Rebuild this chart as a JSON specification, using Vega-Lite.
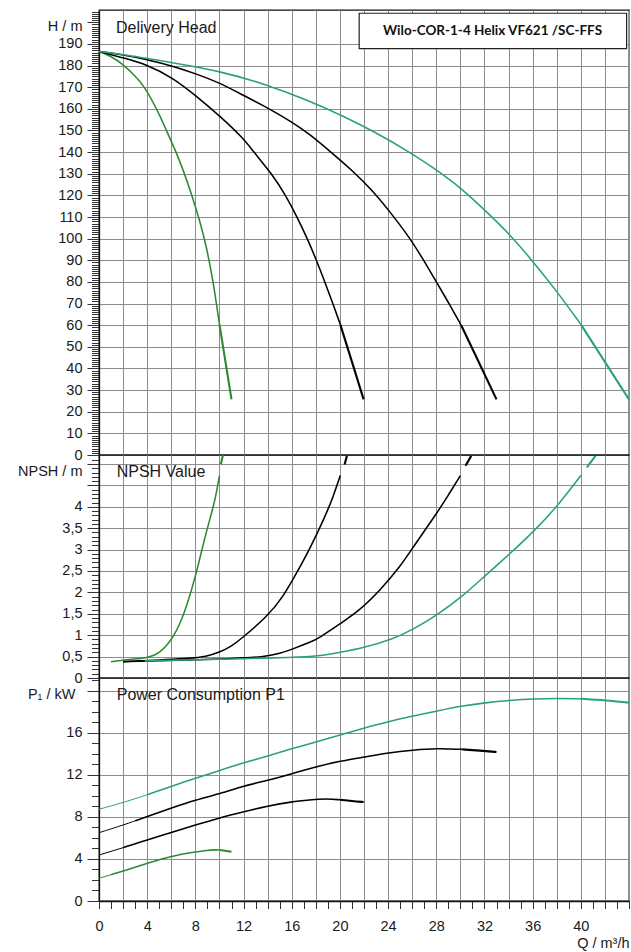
{
  "$schema": "https://vega.github.io/schema/vega-lite/v6.json",
  "background": "white",
  "padding": {"left": 16, "top": 2, "right": 1, "bottom": 1},
  "autosize": {"type": "pad"},
  "spacing": 0,
  "bounds": "flush",
  "datasets": {
    "model": [{"name": "Wilo-COR-1-4 Helix VF621 /SC-FFS"}],
    "headTitle": [{"label": "Delivery Head"}],
    "npshTitle": [{"label": "NPSH Value"}],
    "powerTitle": [{"label": "Power Consumption P1"}],
    "head": [
      {"pumps": "1", "part": "operating", "q": 0, "h": 186.5},
      {"pumps": "1", "part": "operating", "q": 1, "h": 184.4},
      {"pumps": "1", "part": "operating", "q": 2, "h": 180.6},
      {"pumps": "1", "part": "operating", "q": 3, "h": 175.2},
      {"pumps": "1", "part": "operating", "q": 3.65, "h": 171.3},
      {"pumps": "1", "part": "operating", "q": 4.76, "h": 160.5},
      {"pumps": "1", "part": "operating", "q": 5.6, "h": 150.0},
      {"pumps": "1", "part": "operating", "q": 6.42, "h": 139.8},
      {"pumps": "1", "part": "operating", "q": 7.0, "h": 131.5},
      {"pumps": "1", "part": "operating", "q": 7.67, "h": 120.8},
      {"pumps": "1", "part": "operating", "q": 8.36, "h": 108.4},
      {"pumps": "1", "part": "operating", "q": 8.91, "h": 96.5},
      {"pumps": "1", "part": "operating", "q": 9.46, "h": 81.0},
      {"pumps": "1", "part": "operating", "q": 10.0, "h": 60.4},
      {"pumps": "1", "part": "end", "q": 10.0, "h": 60.4},
      {"pumps": "1", "part": "end", "q": 11.0, "h": 25.7},
      {"pumps": "2", "part": "operating", "q": 0, "h": 186.5},
      {"pumps": "2", "part": "operating", "q": 2, "h": 183.6},
      {"pumps": "2", "part": "operating", "q": 3.93, "h": 180.6},
      {"pumps": "2", "part": "operating", "q": 6.14, "h": 174.4},
      {"pumps": "2", "part": "operating", "q": 8.08, "h": 165.9},
      {"pumps": "2", "part": "operating", "q": 10.04, "h": 156.7},
      {"pumps": "2", "part": "operating", "q": 11.95, "h": 146.6},
      {"pumps": "2", "part": "operating", "q": 12.85, "h": 140.0},
      {"pumps": "2", "part": "operating", "q": 14.35, "h": 130.0},
      {"pumps": "2", "part": "operating", "q": 15.5, "h": 120.0},
      {"pumps": "2", "part": "operating", "q": 16.45, "h": 110.0},
      {"pumps": "2", "part": "operating", "q": 17.3, "h": 100.0},
      {"pumps": "2", "part": "operating", "q": 18.05, "h": 90.0},
      {"pumps": "2", "part": "operating", "q": 18.75, "h": 80.0},
      {"pumps": "2", "part": "operating", "q": 19.42, "h": 70.0},
      {"pumps": "2", "part": "operating", "q": 20.03, "h": 60.4},
      {"pumps": "2", "part": "end", "q": 20.03, "h": 60.4},
      {"pumps": "2", "part": "end", "q": 21.97, "h": 25.7},
      {"pumps": "3", "part": "operating", "q": 0, "h": 186.5},
      {"pumps": "3", "part": "operating", "q": 2, "h": 185.0},
      {"pumps": "3", "part": "operating", "q": 3.93, "h": 182.9},
      {"pumps": "3", "part": "operating", "q": 6.14, "h": 179.8},
      {"pumps": "3", "part": "operating", "q": 8, "h": 176.3},
      {"pumps": "3", "part": "operating", "q": 10.0, "h": 172.1},
      {"pumps": "3", "part": "operating", "q": 12.09, "h": 165.9},
      {"pumps": "3", "part": "operating", "q": 14.02, "h": 160.5},
      {"pumps": "3", "part": "operating", "q": 16.1, "h": 153.6},
      {"pumps": "3", "part": "operating", "q": 17.5, "h": 148.2},
      {"pumps": "3", "part": "operating", "q": 19.15, "h": 140.5},
      {"pumps": "3", "part": "operating", "q": 21.08, "h": 131.3},
      {"pumps": "3", "part": "operating", "q": 22.74, "h": 122.0},
      {"pumps": "3", "part": "operating", "q": 24.1, "h": 112.8},
      {"pumps": "3", "part": "operating", "q": 25.8, "h": 100.4},
      {"pumps": "3", "part": "operating", "q": 26.9, "h": 90.5},
      {"pumps": "3", "part": "operating", "q": 28.1, "h": 79.2},
      {"pumps": "3", "part": "operating", "q": 29.1, "h": 69.6},
      {"pumps": "3", "part": "operating", "q": 30.1, "h": 59.6},
      {"pumps": "3", "part": "end", "q": 30.1, "h": 59.6},
      {"pumps": "3", "part": "end", "q": 33.0, "h": 25.7},
      {"pumps": "4", "part": "operating", "q": 0, "h": 186.5},
      {"pumps": "4", "part": "operating", "q": 2, "h": 185.2},
      {"pumps": "4", "part": "operating", "q": 6.14, "h": 181.3},
      {"pumps": "4", "part": "operating", "q": 10.0, "h": 177.5},
      {"pumps": "4", "part": "operating", "q": 13.9, "h": 171.3},
      {"pumps": "4", "part": "operating", "q": 17.5, "h": 163.6},
      {"pumps": "4", "part": "operating", "q": 20.25, "h": 156.7},
      {"pumps": "4", "part": "operating", "q": 23.0, "h": 149.0},
      {"pumps": "4", "part": "operating", "q": 25.5, "h": 141.0},
      {"pumps": "4", "part": "operating", "q": 28.6, "h": 129.7},
      {"pumps": "4", "part": "operating", "q": 30.5, "h": 121.2},
      {"pumps": "4", "part": "operating", "q": 32.4, "h": 111.2},
      {"pumps": "4", "part": "operating", "q": 34.1, "h": 102.0},
      {"pumps": "4", "part": "operating", "q": 36.0, "h": 89.6},
      {"pumps": "4", "part": "operating", "q": 38.0, "h": 75.8},
      {"pumps": "4", "part": "operating", "q": 40.0, "h": 60.4},
      {"pumps": "4", "part": "end", "q": 40.0, "h": 60.4},
      {"pumps": "4", "part": "end", "q": 44.0, "h": 25.7}
    ],
    "npsh": [
      {"pumps": "1", "part": "operating", "q": 1.0, "n": 0.38},
      {"pumps": "1", "part": "operating", "q": 2.0, "n": 0.42},
      {"pumps": "1", "part": "operating", "q": 2.82, "n": 0.44},
      {"pumps": "1", "part": "operating", "q": 3.93, "n": 0.47},
      {"pumps": "1", "part": "operating", "q": 4.5, "n": 0.52},
      {"pumps": "1", "part": "operating", "q": 5.04, "n": 0.6},
      {"pumps": "1", "part": "operating", "q": 5.6, "n": 0.75},
      {"pumps": "1", "part": "operating", "q": 6.14, "n": 0.95},
      {"pumps": "1", "part": "operating", "q": 6.7, "n": 1.25},
      {"pumps": "1", "part": "operating", "q": 7.25, "n": 1.65},
      {"pumps": "1", "part": "operating", "q": 8.08, "n": 2.43},
      {"pumps": "1", "part": "operating", "q": 8.91, "n": 3.44},
      {"pumps": "1", "part": "operating", "q": 9.6, "n": 4.08},
      {"pumps": "1", "part": "operating", "q": 10.0, "n": 4.73},
      {"pumps": "1", "part": "end", "q": 10.12, "n": 5.0},
      {"pumps": "1", "part": "end", "q": 10.29, "n": 5.21},
      {"pumps": "2", "part": "operating", "q": 2.0, "n": 0.38},
      {"pumps": "2", "part": "operating", "q": 3.5, "n": 0.4},
      {"pumps": "2", "part": "operating", "q": 5.6, "n": 0.43},
      {"pumps": "2", "part": "operating", "q": 7.5, "n": 0.46},
      {"pumps": "2", "part": "operating", "q": 8.9, "n": 0.5},
      {"pumps": "2", "part": "operating", "q": 10.0, "n": 0.6},
      {"pumps": "2", "part": "operating", "q": 11.0, "n": 0.74},
      {"pumps": "2", "part": "operating", "q": 11.95, "n": 0.95},
      {"pumps": "2", "part": "operating", "q": 13.9, "n": 1.42},
      {"pumps": "2", "part": "operating", "q": 15.27, "n": 1.88},
      {"pumps": "2", "part": "operating", "q": 16.66, "n": 2.58},
      {"pumps": "2", "part": "operating", "q": 17.49, "n": 3.01},
      {"pumps": "2", "part": "operating", "q": 18.73, "n": 3.75},
      {"pumps": "2", "part": "operating", "q": 19.4, "n": 4.2},
      {"pumps": "2", "part": "operating", "q": 20.03, "n": 4.73},
      {"pumps": "2", "part": "end", "q": 20.39, "n": 4.99},
      {"pumps": "2", "part": "end", "q": 20.58, "n": 5.19},
      {"pumps": "3", "part": "operating", "q": 2.0, "n": 0.38},
      {"pumps": "3", "part": "operating", "q": 5.0, "n": 0.4},
      {"pumps": "3", "part": "operating", "q": 8.0, "n": 0.43},
      {"pumps": "3", "part": "operating", "q": 11.0, "n": 0.45},
      {"pumps": "3", "part": "operating", "q": 13.9, "n": 0.5},
      {"pumps": "3", "part": "operating", "q": 15.0, "n": 0.57},
      {"pumps": "3", "part": "operating", "q": 16.1, "n": 0.68},
      {"pumps": "3", "part": "operating", "q": 17.49, "n": 0.83},
      {"pumps": "3", "part": "operating", "q": 18.26, "n": 0.93},
      {"pumps": "3", "part": "operating", "q": 19.97, "n": 1.26},
      {"pumps": "3", "part": "operating", "q": 21.6, "n": 1.57},
      {"pumps": "3", "part": "operating", "q": 23.3, "n": 2.04},
      {"pumps": "3", "part": "operating", "q": 24.95, "n": 2.58},
      {"pumps": "3", "part": "operating", "q": 26.06, "n": 3.05},
      {"pumps": "3", "part": "operating", "q": 28.0, "n": 3.83},
      {"pumps": "3", "part": "operating", "q": 29.0, "n": 4.27},
      {"pumps": "3", "part": "operating", "q": 30.0, "n": 4.73},
      {"pumps": "3", "part": "end", "q": 30.43, "n": 4.96},
      {"pumps": "3", "part": "end", "q": 30.9, "n": 5.19},
      {"pumps": "4", "part": "operating", "q": 3.8, "n": 0.4},
      {"pumps": "4", "part": "operating", "q": 8.0, "n": 0.43},
      {"pumps": "4", "part": "operating", "q": 12.0, "n": 0.45},
      {"pumps": "4", "part": "operating", "q": 16.0, "n": 0.48},
      {"pumps": "4", "part": "operating", "q": 18.26, "n": 0.51},
      {"pumps": "4", "part": "operating", "q": 20.0, "n": 0.6},
      {"pumps": "4", "part": "operating", "q": 21.9, "n": 0.7},
      {"pumps": "4", "part": "operating", "q": 24.4, "n": 0.91},
      {"pumps": "4", "part": "operating", "q": 26.1, "n": 1.14},
      {"pumps": "4", "part": "operating", "q": 28.0, "n": 1.46},
      {"pumps": "4", "part": "operating", "q": 30.07, "n": 1.88},
      {"pumps": "4", "part": "operating", "q": 31.9, "n": 2.35},
      {"pumps": "4", "part": "operating", "q": 34.1, "n": 2.9},
      {"pumps": "4", "part": "operating", "q": 36.0, "n": 3.4},
      {"pumps": "4", "part": "operating", "q": 38.0, "n": 3.99},
      {"pumps": "4", "part": "operating", "q": 40.0, "n": 4.73},
      {"pumps": "4", "part": "end", "q": 40.5, "n": 4.92},
      {"pumps": "4", "part": "end", "q": 41.22, "n": 5.19}
    ],
    "power": [
      {"pumps": "1", "part": "start", "q": 0, "p": 2.16},
      {"pumps": "1", "part": "start", "q": 1, "p": 2.5},
      {"pumps": "1", "part": "operating", "q": 1, "p": 2.5},
      {"pumps": "1", "part": "operating", "q": 2, "p": 2.85},
      {"pumps": "1", "part": "operating", "q": 3.93, "p": 3.55},
      {"pumps": "1", "part": "operating", "q": 6.06, "p": 4.28},
      {"pumps": "1", "part": "operating", "q": 8, "p": 4.66},
      {"pumps": "1", "part": "operating", "q": 9, "p": 4.83},
      {"pumps": "1", "part": "operating", "q": 9.6, "p": 4.87},
      {"pumps": "1", "part": "operating", "q": 10.04, "p": 4.85},
      {"pumps": "1", "part": "end", "q": 10.04, "p": 4.85},
      {"pumps": "1", "part": "end", "q": 11, "p": 4.69},
      {"pumps": "2", "part": "start", "q": 0, "p": 4.37},
      {"pumps": "2", "part": "start", "q": 2, "p": 5.07},
      {"pumps": "2", "part": "operating", "q": 2, "p": 5.07},
      {"pumps": "2", "part": "operating", "q": 4, "p": 5.82},
      {"pumps": "2", "part": "operating", "q": 6, "p": 6.5},
      {"pumps": "2", "part": "operating", "q": 8, "p": 7.22},
      {"pumps": "2", "part": "operating", "q": 10.04, "p": 7.92},
      {"pumps": "2", "part": "operating", "q": 12.03, "p": 8.49},
      {"pumps": "2", "part": "operating", "q": 14, "p": 9.03},
      {"pumps": "2", "part": "operating", "q": 16, "p": 9.44},
      {"pumps": "2", "part": "operating", "q": 17.5, "p": 9.6},
      {"pumps": "2", "part": "operating", "q": 18.87, "p": 9.73},
      {"pumps": "2", "part": "operating", "q": 20.03, "p": 9.62},
      {"pumps": "2", "part": "end", "q": 20.03, "p": 9.62},
      {"pumps": "2", "part": "end", "q": 21, "p": 9.5},
      {"pumps": "2", "part": "end", "q": 21.97, "p": 9.41},
      {"pumps": "3", "part": "start", "q": 0, "p": 6.49},
      {"pumps": "3", "part": "start", "q": 2, "p": 7.22},
      {"pumps": "3", "part": "start", "q": 3, "p": 7.62},
      {"pumps": "3", "part": "operating", "q": 3, "p": 7.62},
      {"pumps": "3", "part": "operating", "q": 3.93, "p": 8.0},
      {"pumps": "3", "part": "operating", "q": 6.06, "p": 8.87},
      {"pumps": "3", "part": "operating", "q": 8, "p": 9.6},
      {"pumps": "3", "part": "operating", "q": 10.04, "p": 10.2},
      {"pumps": "3", "part": "operating", "q": 12.03, "p": 10.93},
      {"pumps": "3", "part": "operating", "q": 14, "p": 11.47},
      {"pumps": "3", "part": "operating", "q": 16, "p": 12.1},
      {"pumps": "3", "part": "operating", "q": 18, "p": 12.75},
      {"pumps": "3", "part": "operating", "q": 20.03, "p": 13.31},
      {"pumps": "3", "part": "operating", "q": 22.05, "p": 13.69},
      {"pumps": "3", "part": "operating", "q": 24.04, "p": 14.1},
      {"pumps": "3", "part": "operating", "q": 26.06, "p": 14.35},
      {"pumps": "3", "part": "operating", "q": 28.05, "p": 14.51},
      {"pumps": "3", "part": "operating", "q": 30.07, "p": 14.42},
      {"pumps": "3", "part": "end", "q": 30.07, "p": 14.42},
      {"pumps": "3", "part": "end", "q": 32.06, "p": 14.26},
      {"pumps": "3", "part": "end", "q": 33, "p": 14.16},
      {"pumps": "4", "part": "start", "q": 0, "p": 8.72},
      {"pumps": "4", "part": "start", "q": 2, "p": 9.35},
      {"pumps": "4", "part": "start", "q": 4, "p": 10.1},
      {"pumps": "4", "part": "operating", "q": 4, "p": 10.1},
      {"pumps": "4", "part": "operating", "q": 6.06, "p": 10.93},
      {"pumps": "4", "part": "operating", "q": 8, "p": 11.66},
      {"pumps": "4", "part": "operating", "q": 10.04, "p": 12.42},
      {"pumps": "4", "part": "operating", "q": 12.03, "p": 13.15},
      {"pumps": "4", "part": "operating", "q": 14, "p": 13.78},
      {"pumps": "4", "part": "operating", "q": 16, "p": 14.48},
      {"pumps": "4", "part": "operating", "q": 18, "p": 15.12},
      {"pumps": "4", "part": "operating", "q": 20.03, "p": 15.78},
      {"pumps": "4", "part": "operating", "q": 22.05, "p": 16.47},
      {"pumps": "4", "part": "operating", "q": 24.04, "p": 17.04},
      {"pumps": "4", "part": "operating", "q": 26.06, "p": 17.59},
      {"pumps": "4", "part": "operating", "q": 28.05, "p": 18.06},
      {"pumps": "4", "part": "operating", "q": 30.07, "p": 18.54},
      {"pumps": "4", "part": "operating", "q": 32.06, "p": 18.85},
      {"pumps": "4", "part": "operating", "q": 34.08, "p": 19.08},
      {"pumps": "4", "part": "operating", "q": 36.07, "p": 19.23},
      {"pumps": "4", "part": "operating", "q": 38.09, "p": 19.27},
      {"pumps": "4", "part": "operating", "q": 40.03, "p": 19.23},
      {"pumps": "4", "part": "end", "q": 40.03, "p": 19.23},
      {"pumps": "4", "part": "end", "q": 42.1, "p": 19.08},
      {"pumps": "4", "part": "end", "q": 44, "p": 18.85}
    ]
  },
  "vconcat": [
    {
      "width": 530,
      "height": 445,
      "layer": [
        {
          "data": {"name": "head"},
          "mark": {"type": "line", "interpolate": "basis", "clip": true},
          "encoding": {
            "x": {"field": "q", "type": "quantitative", "scale": {"domain": [0, 44], "nice": false, "zero": false},
                  "axis": {"title": null, "labels": false, "ticks": false, "domain": false, "grid": true, "tickCount": 22}},
            "y": {"field": "h", "type": "quantitative", "scale": {"domain": [0, 205.7], "nice": false},
                  "axis": {"title": "H / m", "titleAngle": 0, "titleAlign": "right", "titleBaseline": "middle", "titleX": -17, "titleY": 16,
                           "tickCount": 206,
                           "labelExpr": "datum.value % 10 == 0 && datum.value <= 190 ? datum.label : ''",
                           "tickSize": {"condition": {"test": "datum.value % 10 == 0", "value": 12}, "value": 7.5},
                           "gridOpacity": {"condition": {"test": "datum.value % 10 == 0 && datum.value <= 190", "value": 1}, "value": 0},
                           "labelPadding": 5}},
            "color": {"field": "pumps", "type": "nominal", "scale": {"domain": ["1", "2", "3", "4"], "range": ["#2b8a32", "#000000", "#000000", "#2aa07f"]}, "legend": null},
            "strokeWidth": {"field": "part", "type": "nominal", "scale": {"domain": ["start", "operating", "end"], "range": [1, 2.1, 1]}, "legend": null}
          }
        },
        {
          "data": {"name": "headTitle"},
          "mark": {"type": "text", "align": "left", "baseline": "middle", "font": "Liberation Sans", "fontSize": 16, "color": "#1a1a1a"},
          "encoding": {"x": {"datum": 1.41}, "y": {"datum": 197.5}, "text": {"field": "label"}}
        },
        {
          "data": {"name": "model"},
          "mark": {"type": "rect", "fill": "white", "stroke": "#222222", "strokeWidth": 1.2},
          "encoding": {"x": {"datum": 21.6}, "x2": {"datum": 43.8}, "y": {"datum": 204.2}, "y2": {"datum": 187.8}}
        },
        {
          "data": {"name": "model"},
          "mark": {"type": "text", "font": "Lato", "fontWeight": "bold", "fontSize": 13.5, "color": "#111111"},
          "encoding": {"x": {"datum": 32.67}, "y": {"datum": 196}, "text": {"field": "name"}}
        }
      ]
    },
    {
      "width": 530,
      "height": 223,
      "layer": [
        {
          "data": {"name": "npsh"},
          "mark": {"type": "line", "interpolate": "basis", "clip": true},
          "encoding": {
            "x": {"field": "q", "type": "quantitative", "scale": {"domain": [0, 44], "nice": false, "zero": false},
                  "axis": {"title": null, "labels": false, "ticks": false, "domain": false, "grid": true, "tickCount": 22}},
            "y": {"field": "n", "type": "quantitative", "scale": {"domain": [0, 5.21], "nice": false},
                  "axis": {"title": "NPSH / m", "titleAngle": 0, "titleAlign": "right", "titleBaseline": "middle", "titleX": -17, "titleY": 16,
                           "tickCount": 52,
                           "labelExpr": "datum.value <= 4.001 && abs(datum.value * 2 - round(datum.value * 2)) < 0.000001 ? replace(format(datum.value, '~g'), '.', ',') : ''",
                           "tickSize": {"condition": {"test": "abs(datum.value * 2 - round(datum.value * 2)) < 0.000001", "value": 12}, "value": 7.5},
                           "gridOpacity": {"condition": {"test": "abs(datum.value * 2 - round(datum.value * 2)) < 0.000001 && datum.value <= 5.001", "value": 1}, "value": 0},
                           "labelPadding": 5}},
            "color": {"field": "pumps", "type": "nominal", "scale": {"domain": ["1", "2", "3", "4"], "range": ["#2b8a32", "#000000", "#000000", "#2aa07f"]}, "legend": null},
            "strokeWidth": {"field": "part", "type": "nominal", "scale": {"domain": ["start", "operating", "end"], "range": [1, 2.1, 1]}, "legend": null}
          }
        },
        {
          "data": {"name": "npshTitle"},
          "mark": {"type": "text", "align": "left", "baseline": "middle", "font": "Liberation Sans", "fontSize": 16, "color": "#1a1a1a"},
          "encoding": {"x": {"datum": 1.47}, "y": {"datum": 4.82}, "text": {"field": "label"}}
        }
      ]
    },
    {
      "width": 530,
      "height": 223,
      "layer": [
        {
          "data": {"name": "power"},
          "mark": {"type": "line", "interpolate": "basis", "clip": true},
          "encoding": {
            "x": {"field": "q", "type": "quantitative", "scale": {"domain": [0, 44], "nice": false, "zero": false},
                  "axis": {"title": "Q / m³/h", "titleAlign": "right", "titleBaseline": "alphabetic", "titleX": 530, "titleY": 46,
                           "tickCount": 44, "tickSize": 7.5, "labelPadding": 11,
                           "labelExpr": "datum.value % 4 == 0 && datum.value <= 40 ? datum.label : ''",
                           "gridOpacity": {"condition": {"test": "datum.value % 2 == 0", "value": 1}, "value": 0}}},
            "y": {"field": "p", "type": "quantitative", "scale": {"domain": [0, 21.2], "nice": false},
                  "axis": {"title": "P₁ / kW", "titleAngle": 0, "titleAlign": "right", "titleBaseline": "middle", "titleX": -24, "titleY": 16,
                           "tickCount": 21,
                           "labelExpr": "datum.value % 4 == 0 && datum.value <= 16 ? datum.label : ''",
                           "tickSize": {"condition": {"test": "datum.value % 4 == 0", "value": 12}, "value": 7.5},
                           "gridOpacity": {"condition": {"test": "datum.value % 4 == 0 && datum.value <= 20", "value": 1}, "value": 0},
                           "labelPadding": 5}},
            "color": {"field": "pumps", "type": "nominal", "scale": {"domain": ["1", "2", "3", "4"], "range": ["#2b8a32", "#000000", "#000000", "#2aa07f"]}, "legend": null},
            "strokeWidth": {"field": "part", "type": "nominal", "scale": {"domain": ["start", "operating", "end"], "range": [1, 2.1, 1]}, "legend": null}
          }
        },
        {
          "data": {"name": "powerTitle"},
          "mark": {"type": "text", "align": "left", "baseline": "middle", "font": "Liberation Sans", "fontSize": 16, "color": "#1a1a1a"},
          "encoding": {"x": {"datum": 1.47}, "y": {"datum": 19.58}, "text": {"field": "label"}}
        }
      ]
    }
  ],
  "config": {
    "font": "Liberation Sans",
    "view": {"stroke": "#111111", "strokeWidth": 1.3},
    "axis": {
      "labelFont": "Liberation Sans", "labelFontSize": 14.5, "labelColor": "#1a1a1a",
      "titleFont": "Liberation Sans", "titleFontSize": 14.5, "titleFontWeight": "normal", "titleColor": "#1a1a1a",
      "domainColor": "#111111", "domainWidth": 1.3,
      "tickColor": "#333333", "tickWidth": 1,
      "gridColor": "#8c8c8c", "gridWidth": 1,
      "labelOverlap": false, "labelBound": false, "labelFlush": false
    }
  }
}
